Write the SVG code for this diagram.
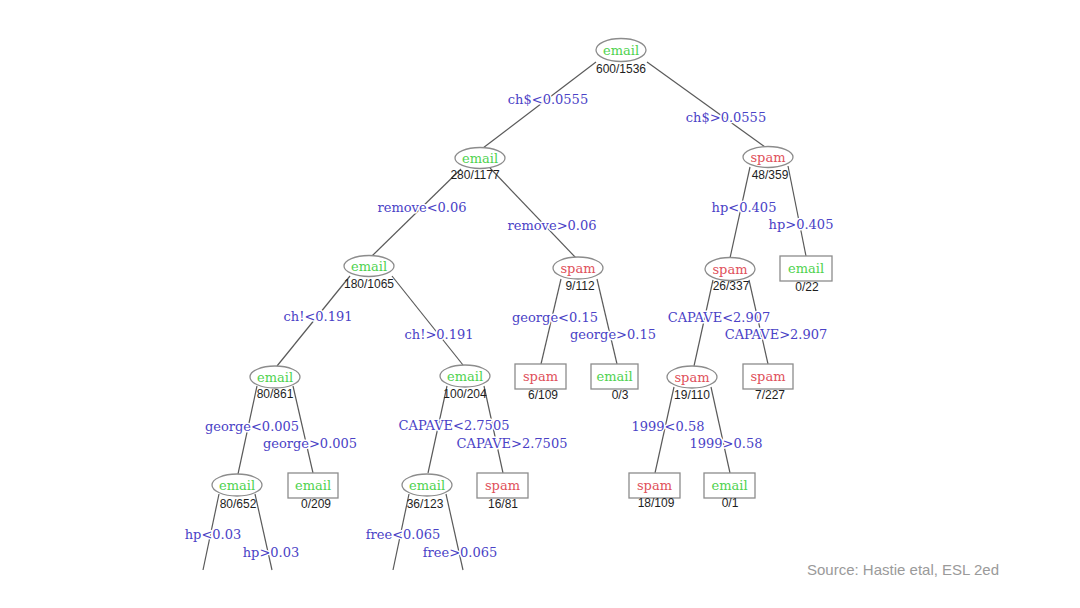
<svg xmlns="http://www.w3.org/2000/svg" width="1080" height="608" viewBox="0 0 1080 608">
<style>
.bg{fill:#ffffff}
.el{fill:#ffffff;stroke:#8c8c8c;stroke-width:1.3}
.bx{fill:#ffffff;stroke:#8c8c8c;stroke-width:1.3}
.e{stroke:#5a5a5a;stroke-width:1.2;fill:none}
.lab{font-family:"DejaVu Serif",serif;font-size:13px;text-anchor:middle}
.em{fill:#4fd24f}
.sp{fill:#e0505a}
.cnt{font-family:"Liberation Sans",Arial,sans-serif;font-size:12px;fill:#1e1e1e;text-anchor:middle}
.el-t{font-family:"DejaVu Serif",serif;font-size:13px;fill:#4a42c6;text-anchor:middle;stroke:#ffffff;stroke-width:3;paint-order:stroke;stroke-linejoin:round}
.src{font-family:"Liberation Sans",Arial,sans-serif;font-size:15px;fill:#9a9a9a}
</style>
<rect class="bg" x="0" y="0" width="1080" height="608"/>
<g id="connectors">
<line class="e" x1="596" y1="62" x2="483" y2="148"/>
<line class="e" x1="647" y1="62" x2="765" y2="147"/>
<line class="e" x1="461" y1="169" x2="372" y2="256"/>
<line class="e" x1="490" y1="168" x2="576" y2="258"/>
<line class="e" x1="750" y1="167" x2="730" y2="258"/>
<line class="e" x1="788" y1="166" x2="806" y2="256"/>
<line class="e" x1="350" y1="276" x2="277" y2="366"/>
<line class="e" x1="392" y1="276" x2="463" y2="365"/>
<line class="e" x1="561" y1="279" x2="541" y2="364"/>
<line class="e" x1="597" y1="279" x2="617" y2="364"/>
<line class="e" x1="713" y1="280" x2="694" y2="366"/>
<line class="e" x1="749" y1="280" x2="768" y2="364"/>
<line class="e" x1="257" y1="386" x2="238" y2="474"/>
<line class="e" x1="293" y1="386" x2="313" y2="473"/>
<line class="e" x1="447" y1="386" x2="428" y2="473"/>
<line class="e" x1="484" y1="386" x2="503" y2="473"/>
<line class="e" x1="674" y1="387" x2="655" y2="473"/>
<line class="e" x1="711" y1="387" x2="730" y2="473"/>
<line class="e" x1="219" y1="494" x2="203" y2="570"/>
<line class="e" x1="255" y1="494" x2="272" y2="570"/>
<line class="e" x1="409" y1="494" x2="393" y2="570"/>
<line class="e" x1="446" y1="494" x2="463" y2="570"/>
</g>
<g id="edge-labels">
<text class="el-t" x="548" y="104">ch$&lt;0.0555</text>
<text class="el-t" x="726" y="122">ch$&gt;0.0555</text>
<text class="el-t" x="422" y="212">remove&lt;0.06</text>
<text class="el-t" x="552" y="230">remove&gt;0.06</text>
<text class="el-t" x="744" y="212">hp&lt;0.405</text>
<text class="el-t" x="801" y="229">hp&gt;0.405</text>
<text class="el-t" x="318" y="321">ch!&lt;0.191</text>
<text class="el-t" x="439" y="339">ch!&gt;0.191</text>
<text class="el-t" x="555" y="322">george&lt;0.15</text>
<text class="el-t" x="613" y="339">george&gt;0.15</text>
<text class="el-t" x="719" y="322">CAPAVE&lt;2.907</text>
<text class="el-t" x="776" y="339">CAPAVE&gt;2.907</text>
<text class="el-t" x="252" y="431">george&lt;0.005</text>
<text class="el-t" x="310" y="448">george&gt;0.005</text>
<text class="el-t" x="454" y="430">CAPAVE&lt;2.7505</text>
<text class="el-t" x="512" y="448">CAPAVE&gt;2.7505</text>
<text class="el-t" x="668" y="431">1999&lt;0.58</text>
<text class="el-t" x="726" y="448">1999&gt;0.58</text>
<text class="el-t" x="213" y="539">hp&lt;0.03</text>
<text class="el-t" x="271" y="557">hp&gt;0.03</text>
<text class="el-t" x="403" y="539">free&lt;0.065</text>
<text class="el-t" x="460" y="557">free&gt;0.065</text>
</g>
<g id="n-root"><ellipse class="el" cx="621" cy="50" rx="25" ry="11.5"/><text class="lab em" x="621" y="54.5">email</text><text class="cnt" x="621" y="73">600/1536</text></g>
<g id="n-280"><ellipse class="el" cx="480" cy="158" rx="25" ry="10.5"/><text class="lab em" x="480" y="162.5">email</text><text class="cnt" x="475" y="179">280/1177</text></g>
<g id="n-48"><ellipse class="el" cx="768" cy="157" rx="25" ry="10.5"/><text class="lab sp" x="768" y="161.5">spam</text><text class="cnt" x="770" y="179">48/359</text></g>
<g id="n-180"><ellipse class="el" cx="369" cy="266" rx="25" ry="10.5"/><text class="lab em" x="369" y="270.5">email</text><text class="cnt" x="369" y="288">180/1065</text></g>
<g id="n-9"><ellipse class="el" cx="578" cy="268" rx="25" ry="11"/><text class="lab sp" x="578" y="272.5">spam</text><text class="cnt" x="580" y="290">9/112</text></g>
<g id="n-26"><ellipse class="el" cx="730" cy="269" rx="25" ry="11.5"/><text class="lab sp" x="730" y="273.5">spam</text><text class="cnt" x="731" y="290">26/337</text></g>
<g id="n-0-22"><rect class="bx" x="780" y="256" width="52" height="25"/><text class="lab em" x="806" y="273">email</text><text class="cnt" x="807" y="291">0/22</text></g>
<g id="n-80-861"><ellipse class="el" cx="275" cy="377" rx="25" ry="11"/><text class="lab em" x="275" y="381.5">email</text><text class="cnt" x="275" y="398">80/861</text></g>
<g id="n-100"><ellipse class="el" cx="465" cy="376" rx="25" ry="11"/><text class="lab em" x="465" y="380.5">email</text><text class="cnt" x="465" y="398">100/204</text></g>
<g id="n-6-109"><rect class="bx" x="515" y="364" width="51" height="25"/><text class="lab sp" x="540.5" y="381">spam</text><text class="cnt" x="543" y="399">6/109</text></g>
<g id="n-0-3"><rect class="bx" x="591" y="364" width="47" height="25"/><text class="lab em" x="614.5" y="381">email</text><text class="cnt" x="620" y="399">0/3</text></g>
<g id="n-19"><ellipse class="el" cx="692" cy="377" rx="25" ry="11"/><text class="lab sp" x="692" y="381.5">spam</text><text class="cnt" x="692" y="399">19/110</text></g>
<g id="n-7-227"><rect class="bx" x="743" y="364" width="50" height="25"/><text class="lab sp" x="768" y="381">spam</text><text class="cnt" x="770" y="399">7/227</text></g>
<g id="n-80-652"><ellipse class="el" cx="237" cy="485" rx="25" ry="11"/><text class="lab em" x="237" y="489.5">email</text><text class="cnt" x="238" y="508">80/652</text></g>
<g id="n-0-209"><rect class="bx" x="288" y="473" width="50" height="25"/><text class="lab em" x="313" y="490">email</text><text class="cnt" x="316" y="508">0/209</text></g>
<g id="n-36"><ellipse class="el" cx="427" cy="485" rx="25" ry="11"/><text class="lab em" x="427" y="489.5">email</text><text class="cnt" x="425" y="508">36/123</text></g>
<g id="n-16-81"><rect class="bx" x="477" y="473" width="51" height="25"/><text class="lab sp" x="502.5" y="490">spam</text><text class="cnt" x="503" y="508">16/81</text></g>
<g id="n-18-109"><rect class="bx" x="629" y="473" width="51" height="25"/><text class="lab sp" x="654.5" y="490">spam</text><text class="cnt" x="656" y="507">18/109</text></g>
<g id="n-0-1"><rect class="bx" x="704" y="473" width="51" height="25"/><text class="lab em" x="729.5" y="490">email</text><text class="cnt" x="730" y="507">0/1</text></g>
<text class="src" x="807" y="575">Source: Hastie etal, ESL 2ed</text>
</svg>
